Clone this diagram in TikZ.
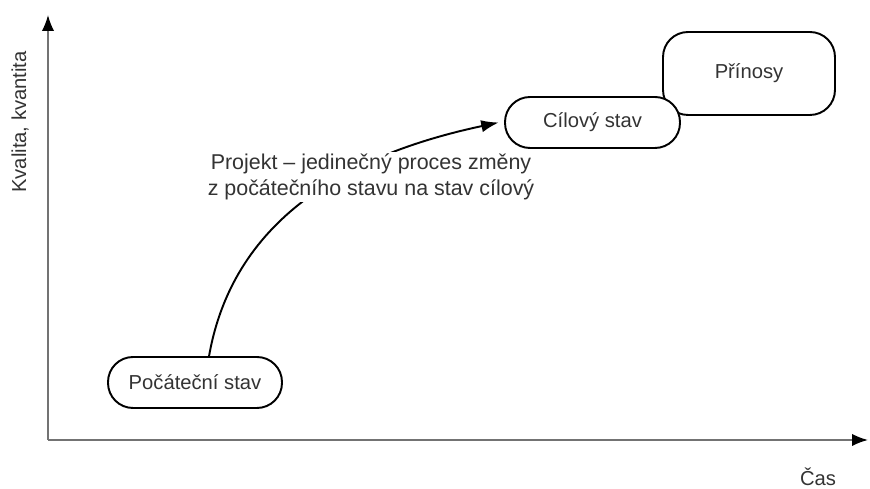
\documentclass[tikz,border=0pt]{standalone}
\usepackage{fontspec}
\setmainfont{Liberation Sans}
\usepackage{tikz}
\usetikzlibrary{positioning, arrows.meta}

\begin{document}
\begin{tikzpicture}[
    x=0.02cm, y=0.02cm,
    stav/.style={rectangle, draw, line width=1.1pt, fill=white, rounded corners=0.5cm,
                 minimum width=3.48cm, minimum height=1.02cm, align=center,
                 font=\fontsize{11.5}{14}\selectfont, text=black!80},
    osa/.style={-{Latex[length=9pt, width=7pt, color=black]}, line width=1pt, draw=black!55},
    arr/.style={-{Latex[length=10pt, width=7pt]}, line width=1.1pt},
    lbl/.style={font=\fontsize{11.5}{14}\selectfont, text=black!80}
]
\useasboundingbox (0,0) rectangle (870,489);

\coordinate (o) at (48,49);
\coordinate (ytop) at (48,474);
\coordinate (xend) at (868,49);

\node[stav] (start)  at (195,106.5) {Počáteční stav};
\node[stav, minimum width=3.44cm, minimum height=1.66cm] (prinos) at (749,415.5) {Přínosy};
\node[stav, minimum width=3.5cm] (cil) at (592.5,366.5) {Cílový stav};

\draw[osa] (o) -- (ytop);
\draw[osa] (o) -- (xend);

\node[lbl, rotate=90] (ylab) at (20,367) {Kvalita, kvantita};
\node[lbl] (xlab) at (818,12) {Čas};

% prechod z pocatecniho do ciloveho stavu
\draw[arr] ([xshift=8]start.north) to[out=80, in=192] ([xshift=-3]cil.west);
\node[lbl, font=\fontsize{12.2}{15}\selectfont, fill=white, align=center, inner sep=1pt]
    (proj) at (371,312)
    {Projekt – jedinečný proces změny\\z počátečního stavu na stav cílový};

\end{tikzpicture}
\end{document}
